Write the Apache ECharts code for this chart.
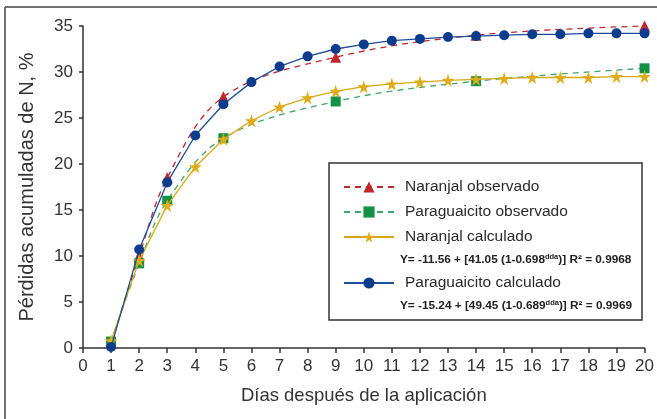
<!DOCTYPE html>
<html>
<head>
<meta charset="utf-8">
<script src="https://cdn.jsdelivr.net/npm/echarts@6/dist/echarts.min.js"></script>
<style>
  html, body { margin: 0; padding: 0; background: #fff; }
  #chart { width: 657px; height: 419px; }
</style>
</head>
<body>
<div id="chart"></div>
<script>
// dias de muestreo (observados) y dias del modelo
const diasObs = [1, 2, 3, 5, 9, 14, 20]
const naranjalObs = [0.5, 10.0, 18.5, 27.3, 31.6, 34.0, 35.0]
const paraguaicitoObs = [0.7, 9.2, 16.0, 22.8, 26.8, 29.0, 30.4]

const dias = [1, 2, 3, 4, 5, 6, 7, 8, 9, 10, 11, 12, 13, 14, 15, 16, 17, 18, 19, 20]
const naranjalCalc = [0.8, 9.5, 15.5, 19.7, 22.7, 24.7, 26.2, 27.2, 27.9, 28.4, 28.7, 28.9, 29.1, 29.2, 29.3, 29.4, 29.4, 29.4, 29.5, 29.5]
const paraguaicitoCalc = [0.1, 10.7, 18.0, 23.1, 26.5, 28.9, 30.6, 31.7, 32.5, 33.0, 33.4, 33.6, 33.8, 33.9, 34.0, 34.1, 34.1, 34.2, 34.2, 34.2]

const nombres = ['Naranjal observado', 'Paraguaicito observado', 'Naranjal calculado', 'Paraguaicito calculado']
const ecuacion1 = ['-11.56', '41.05', '0.698', '0.9968']
const ecuacion2 = ['-15.24', '49.45', '0.689', '0.9969']

function pares (xs, ys) {
  return xs.map(function (x, i) { return [x, ys[i]] })
}

const star = 'path://M50,0 L61,35 L98,35 L68,57 L79,91 L50,70 L21,91 L32,57 L2,35 L39,35 Z'
const font = '"Liberation Sans", Arial, sans-serif'

function formula (e) {
  return 'Y= ' + e[0] + ' + [' + e[1] + ' (1-' + e[2] + '{sup|dda})] R\u00b2 = ' + e[3]
}

const supStyle = { sup: { fontSize: 7.5, fontWeight: 'bold', verticalAlign: 'top', fill: '#222', padding: [0, 0, 5, 0] } }

const chart = echarts.init(document.getElementById('chart'))
const option = {
  animation: false,
  backgroundColor: '#fff',
  textStyle: { fontFamily: font },
  grid: { left: 83, top: 26, right: 10, bottom: 71 },
  xAxis: {
    type: 'value',
    min: 0,
    max: 20,
    interval: 1,
    name: 'Días después de la aplicación',
    nameLocation: 'middle',
    nameGap: 38,
    nameTextStyle: { fontSize: 18.5, color: '#333', fontFamily: font },
    axisLine: { lineStyle: { color: '#333', width: 1.5 } },
    axisTick: { length: 5, lineStyle: { color: '#333', width: 1.5 } },
    axisLabel: { fontSize: 17, color: '#333', margin: 10, fontFamily: font },
    splitLine: { show: false }
  },
  yAxis: {
    type: 'value',
    min: 0,
    max: 35,
    interval: 5,
    name: 'Pérdidas acumuladas de N, %',
    nameLocation: 'middle',
    nameGap: 46,
    nameTextStyle: { fontSize: 20, color: '#333', fontFamily: font },
    axisLine: { show: true, lineStyle: { color: '#333', width: 1.5 } },
    axisTick: { show: true, length: 4, lineStyle: { color: '#333', width: 1.5 } },
    axisLabel: { fontSize: 17, color: '#333', margin: 10, fontFamily: font },
    splitLine: { show: false }
  },
  legend: [
    {
      orient: 'vertical',
      left: 338,
      top: 174,
      itemWidth: 50,
      itemHeight: 14,
      itemGap: 9,
      data: nombres.slice(0, 3),
      textStyle: { fontSize: 15.5, color: '#2a2a2a', padding: [0, 0, 0, 6], fontFamily: font }
    },
    {
      orient: 'vertical',
      left: 338,
      top: 270,
      itemWidth: 50,
      itemHeight: 14,
      data: nombres.slice(3),
      textStyle: { fontSize: 15.5, color: '#2a2a2a', padding: [0, 0, 0, 6], fontFamily: font }
    }
  ],
  graphic: [
    { type: 'line', shape: { x1: 5, y1: 7, x2: 657, y2: 7 }, style: { stroke: '#444', lineWidth: 1.5 } },
    { type: 'line', shape: { x1: 5, y1: 7, x2: 5, y2: 419 }, style: { stroke: '#444', lineWidth: 1.5 } },
    {
      type: 'rect',
      z: -1,
      shape: { x: 329, y: 163, width: 313, height: 157 },
      style: { fill: '#fff', stroke: '#333', lineWidth: 1.5 }
    },
    {
      type: 'text',
      left: 400,
      top: 253,
      style: { text: formula(ecuacion1), font: 'bold 11.8px ' + font, fill: '#222', rich: supStyle }
    },
    {
      type: 'text',
      left: 400,
      top: 299,
      style: { text: formula(ecuacion2), font: 'bold 11.8px ' + font, fill: '#222', rich: supStyle }
    }
  ],
  series: [
    {
      name: nombres[0],
      type: 'line',
      data: pares(diasObs, naranjalObs),
      smooth: 0.35,
      symbol: 'triangle',
      symbolSize: 11,
      itemStyle: { color: '#c1272d' },
      lineStyle: { color: '#c1272d', width: 1.3, type: [6, 5] },
      z: 2
    },
    {
      name: nombres[1],
      type: 'line',
      data: pares(diasObs, paraguaicitoObs),
      smooth: 0.35,
      symbol: 'rect',
      symbolSize: 10,
      itemStyle: { color: '#139147' },
      lineStyle: { color: '#3aa86b', width: 1.3, type: [6, 5] },
      z: 2
    },
    {
      name: nombres[2],
      type: 'line',
      data: pares(dias, naranjalCalc),
      symbol: star,
      symbolSize: 13,
      itemStyle: { color: '#dfab18' },
      lineStyle: { color: '#d8a818', width: 1.3 },
      z: 3
    },
    {
      name: nombres[3],
      type: 'line',
      data: pares(dias, paraguaicitoCalc),
      symbol: 'circle',
      symbolSize: 10,
      itemStyle: { color: '#0d3b8e' },
      lineStyle: { color: '#1d4c9a', width: 1.3 },
      z: 4
    }
  ]
}
chart.setOption(option)
</script>
</body>
</html>
